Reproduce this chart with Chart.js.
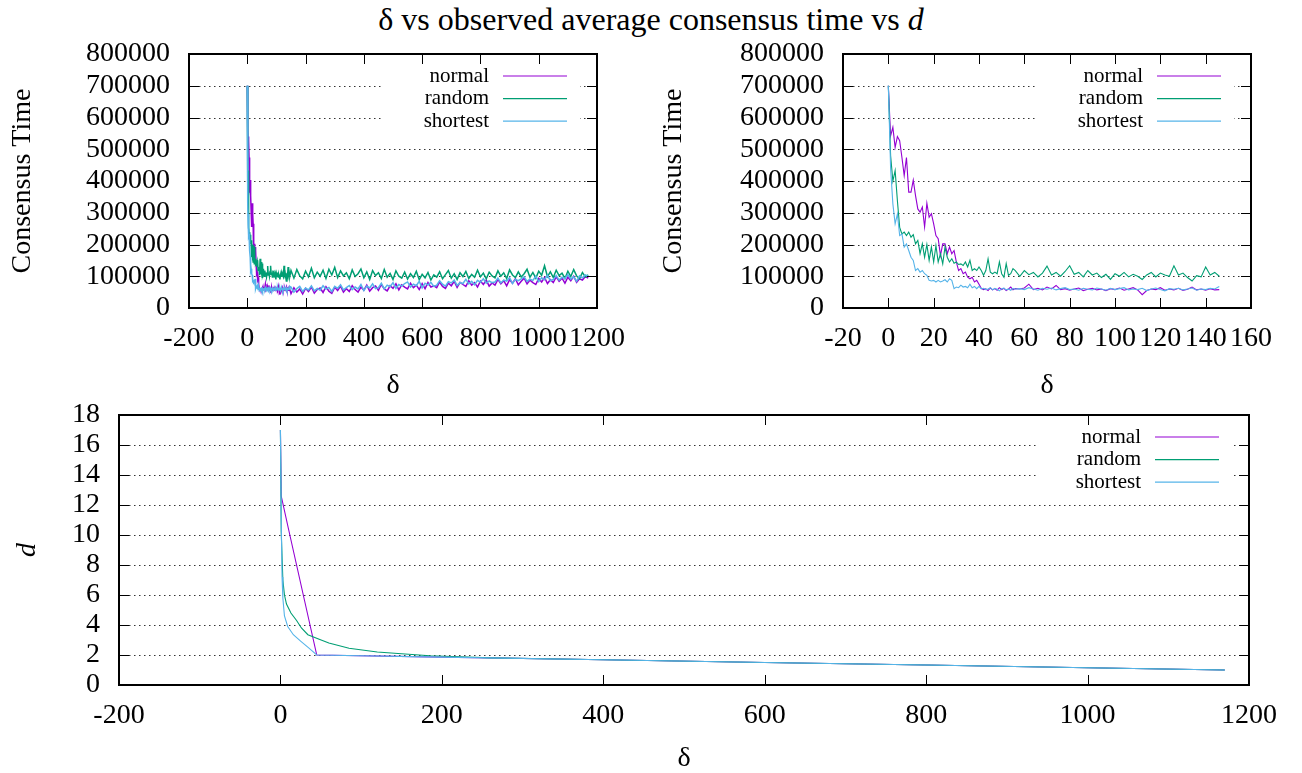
<!DOCTYPE html>
<html>
<head>
<meta charset="utf-8">
<script src="https://cdn.jsdelivr.net/npm/chart.js@4.4.1/dist/chart.umd.min.js"></script>
<style>
    html, body { margin: 0; padding: 0; background: #fff; }
    body { width: 1302px; height: 773px; position: relative; overflow: hidden; font-family: 'Liberation Serif', 'DejaVu Serif', serif; }
    #title { position: absolute; left: 0; top: 3px; width: 1302px; text-align: center; font-size: 32px; line-height: 32px; color: #000; }
    canvas { position: absolute; }
</style>
</head>
<body>
<div id="title">δ vs observed average consensus time vs <i>d</i></div>
<canvas id="chartTopLeft" width="651" height="400" style="left:0;top:0"></canvas>
<canvas id="chartTopRight" width="651" height="400" style="left:651px;top:0"></canvas>
<canvas id="chartBottom" width="1302" height="378" style="left:0;top:395px"></canvas>
<script>
// ---- Данные: δ с шагом 1 до 56, потом с шагом 2 (верхний правый график) ----
const deltaFine = [
    0, 1, 2, 3, 4, 5, 6, 7, 8, 9, 10, 11, 12, 13, 14, 15, 16, 17, 18, 19,
    20, 21, 22, 23, 24, 25, 26, 27, 28, 29, 30, 31, 32, 33, 34, 35, 36, 37, 38, 39,
    40, 41, 42, 43, 44, 45, 46, 47, 48, 49, 50, 51, 52, 53, 54, 55, 56,
    58, 60, 62, 64, 66, 68, 70, 72, 74, 76, 78, 80, 82, 84, 86, 88, 90, 92, 94, 96,
    98, 100, 102, 104, 106, 108, 110, 112, 114, 116, 118, 120, 122, 124, 126, 128, 130, 132, 134, 136,
    138, 140, 142, 144, 146
];

const normalFine = [
    700000, 542000, 569000, 506000, 540000, 527000, 474000, 417000, 474000, 365000,
    365000, 403000, 354000, 312000, 302000, 318000, 255000, 330000, 286000, 297000,
    265000, 228000, 218000, 165000, 202000, 202000, 171000, 192000, 171000, 181000,
    145000, 118000, 124000, 108000, 113000, 97000, 92000, 97000, 82000, 87000,
    75000, 62000, 58000, 60000, 55000, 63000, 57000, 61000, 56000, 64000,
    58000, 62000, 55000, 60000, 66000, 57000, 61000,
    60000, 63000, 75000, 58000, 62000, 57000, 66000, 60000, 71000, 58000,
    61000, 56000, 60000, 63000, 55000, 59000, 62000, 57000, 60000, 55000,
    61000, 58000, 63000, 56000, 60000, 64000, 57000, 42000, 55000, 60000,
    58000, 64000, 56000, 60000, 57000, 62000, 55000, 59000, 66000, 57000,
    60000, 56000, 61000, 57000, 58000
];

const randomFine = [
    700000, 480000, 400000, 433000, 338000, 254000, 233000, 239000, 228000, 239000,
    223000, 231000, 202000, 213000, 171000, 202000, 160000, 200000, 150000, 192000,
    145000, 197000, 145000, 171000, 139000, 192000, 160000, 145000, 155000, 141000,
    145000, 137000, 139000, 134000, 145000, 129000, 150000, 118000, 124000, 118000,
    129000, 118000, 103000, 118000, 155000, 113000, 108000, 113000, 108000, 145000,
    108000, 97000, 140000, 103000, 108000, 124000, 118000,
    100000, 118000, 105000, 112000, 98000, 110000, 132000, 104000, 112000, 100000,
    115000, 133000, 106000, 112000, 98000, 118000, 104000, 110000, 96000, 106000,
    90000, 108000, 100000, 112000, 98000, 106000, 100000, 90000, 104000, 112000,
    98000, 110000, 104000, 100000, 133000, 104000, 110000, 96000, 85000, 102000,
    98000, 129000, 104000, 112000, 100000
];

const shortestFine = [
    700000, 440000, 328000, 265000, 296000, 228000, 233000, 192000, 202000, 181000,
    160000, 150000, 118000, 124000, 113000, 118000, 108000, 103000, 87000, 85000,
    87000, 82000, 87000, 82000, 85000, 89000, 82000, 92000, 87000, 61000,
    66000, 64000, 72000, 66000, 68000, 64000, 75000, 64000, 68000, 61000,
    68000, 60000, 62000, 58000, 60000, 64000, 57000, 62000, 59000, 54000,
    61000, 63000, 57000, 60000, 56000, 62000, 59000,
    61000, 58000, 64000, 60000, 56000, 62000, 59000, 63000, 57000, 61000,
    64000, 58000, 60000, 56000, 62000, 59000, 57000, 63000, 60000, 56000,
    62000, 58000, 61000, 64000, 57000, 60000, 58000, 62000, 55000, 60000,
    63000, 58000, 54000, 61000, 59000, 62000, 57000, 60000, 63000, 56000,
    60000, 58000, 62000, 60000, 68000
];

// ---- Данные: хвост для верхнего левого графика, δ = 150..1170 с шагом 10 ----
const deltaCoarse = [
    150, 160, 170, 180, 190, 200, 210, 220, 230, 240,
    250, 260, 270, 280, 290, 300, 310, 320, 330, 340,
    350, 360, 370, 380, 390, 400, 410, 420, 430, 440,
    450, 460, 470, 480, 490, 500, 510, 520, 530, 540,
    550, 560, 570, 580, 590, 600, 610, 620, 630, 640,
    650, 660, 670, 680, 690, 700, 710, 720, 730, 740,
    750, 760, 770, 780, 790, 800, 810, 820, 830, 840,
    850, 860, 870, 880, 890, 900, 910, 920, 930, 940,
    950, 960, 970, 980, 990, 1000, 1010, 1020, 1030, 1040,
    1050, 1060, 1070, 1080, 1090, 1100, 1110, 1120, 1130, 1140,
    1150, 1160, 1170
];

const normalCoarse = [
    45000, 64000, 50000, 60000, 44000, 62000, 52000, 66000, 47000, 58000,
    63000, 49000, 67000, 53000, 46000, 65000, 55000, 69000, 50000, 61000,
    52000, 70000, 58000, 50000, 66000, 56000, 72000, 53000, 64000, 69000,
    56000, 74000, 60000, 54000, 70000, 62000, 76000, 57000, 73000, 66000,
    60000, 78000, 64000, 72000, 58000, 77000, 61000, 80000, 66000, 70000,
    64000, 82000, 68000, 62000, 78000, 70000, 84000, 65000, 81000, 74000,
    68000, 86000, 72000, 80000, 66000, 85000, 74000, 88000, 69000, 79000,
    72000, 90000, 76000, 86000, 70000, 89000, 78000, 92000, 73000, 84000,
    94000, 76000, 88000, 80000, 74000, 93000, 82000, 96000, 77000, 89000,
    80000, 98000, 84000, 94000, 78000, 97000, 86000, 100000, 81000, 92000,
    88000, 99000, 94000
];

const randomCoarse = [
    118000, 94000, 121000, 101000, 92000, 116000, 98000, 125000, 95000, 113000,
    100000, 119000, 93000, 122000, 104000, 128000, 96000, 117000, 101000, 111000,
    92000, 120000, 99000, 108000, 123000, 95000, 114000, 90000, 118000, 102000,
    111000, 93000, 121000, 97000, 109000, 90000, 117000, 100000, 94000, 113000,
    91000, 108000, 96000, 116000, 89000, 106000, 95000, 112000, 88000, 104000,
    97000, 114000, 92000, 105000, 118000, 94000, 108000, 90000, 111000, 99000,
    115000, 93000, 106000, 97000, 119000, 98000, 110000, 92000, 113000, 101000,
    95000, 117000, 100000, 111000, 93000, 120000, 104000, 96000, 114000, 98000,
    108000, 122000, 97000, 112000, 94000, 116000, 103000, 133000, 99000, 114000,
    96000, 119000, 102000, 110000, 93000, 116000, 99000, 121000, 101000, 92000,
    112000, 98000, 104000
];

const shortestCoarse = [
    66000, 50000, 61000, 68000, 52000, 63000, 57000, 70000, 54000, 62000,
    56000, 70000, 60000, 65000, 52000, 68000, 62000, 73000, 57000, 64000,
    71000, 58000, 66000, 60000, 74000, 55000, 69000, 63000, 76000, 61000,
    64000, 78000, 60000, 72000, 67000, 80000, 62000, 74000, 69000, 77000,
    82000, 66000, 75000, 70000, 84000, 63000, 78000, 72000, 81000, 68000,
    72000, 86000, 75000, 69000, 83000, 79000, 88000, 71000, 80000, 77000,
    90000, 76000, 84000, 73000, 87000, 81000, 92000, 78000, 85000, 80000,
    82000, 94000, 79000, 88000, 85000, 96000, 77000, 90000, 86000, 92000,
    98000, 84000, 91000, 87000, 100000, 83000, 95000, 89000, 103000, 86000,
    90000, 102000, 88000, 97000, 93000, 105000, 91000, 99000, 84000, 101000,
    95000, 104000, 100000
];

// ---- Данные: d в зависимости от δ (нижний график) ----
const deltaNormalD = [0, 1, 10, 20, 30, 40, 45, 200, 400, 600, 800, 1000, 1170];
const normalD = [17, 12.6, 10.4, 8.0, 5.6, 3.2, 2.0, 1.86, 1.68, 1.5, 1.33, 1.15, 1.0];

const deltaRandomD = [0, 1, 3, 5, 7.5, 13, 20, 26, 34, 48, 60, 85, 120, 150, 185, 222, 260, 400, 600, 800, 1000, 1170];
const randomD = [17, 10.2, 7.0, 6.0, 5.4, 4.8, 4.3, 3.8, 3.35, 3.05, 2.8, 2.45, 2.2, 2.08, 1.95, 1.88, 1.81, 1.68, 1.5, 1.33, 1.15, 1.0];

const deltaShortestD = [0, 1, 2, 3, 5, 9, 16, 25, 35, 45, 200, 400, 600, 800, 1000, 1170];
const shortestD = [17, 11, 7.2, 5.8, 4.6, 3.9, 3.35, 2.93, 2.47, 2.0, 1.86, 1.68, 1.5, 1.33, 1.15, 1.0];

const seriesNames = ['normal', 'random', 'shortest'];
const seriesColors = ['#9400d3', '#009e73', '#56b4e9'];

const FONT = "'Liberation Serif', 'DejaVu Serif', serif";
Chart.defaults.font.family = FONT;
Chart.defaults.color = '#000';

function toPoints(xs, ys) {
    return xs.map((x, i) => ({ x: x, y: ys[i] }));
}

/**
 * Плагин в стиле gnuplot: пунктирная сетка по y, рамка, засечки внутрь, легенда справа
 */
const gnuplotFrame = {
    id: 'gnuplotFrame',
    beforeDatasetsDraw(chart) {
        const { ctx, chartArea: a } = chart;
        const yScale = chart.scales.y;
        ctx.save();
        ctx.strokeStyle = '#333';
        ctx.lineWidth = 1;
        ctx.setLineDash([1.5, 3.5]);
        yScale.ticks.forEach(t => {
            if (t.value === yScale.min || t.value === yScale.max) return;
            const py = Math.round(yScale.getPixelForValue(t.value)) + 0.5;
            ctx.beginPath();
            ctx.moveTo(a.left, py);
            ctx.lineTo(a.right, py);
            ctx.stroke();
        });
        ctx.restore();
    },
    afterDatasetsDraw(chart) {
        const { ctx, chartArea: a } = chart;
        const xScale = chart.scales.x;
        const yScale = chart.scales.y;
        ctx.save();

        // легенда с белым фоном
        ctx.fillStyle = '#fff';
        ctx.fillRect(a.right - 213, a.top + 8, 196, 72);
        ctx.font = '21px ' + FONT;
        ctx.textAlign = 'right';
        ctx.textBaseline = 'middle';
        chart.data.datasets.forEach((ds, i) => {
            const ly = a.top + 22 + i * 22.6;
            ctx.fillStyle = '#000';
            ctx.fillText(ds.label, a.right - 108, ly);
            ctx.strokeStyle = ds.borderColor;
            ctx.lineWidth = 1.2;
            ctx.beginPath();
            ctx.moveTo(a.right - 94, ly);
            ctx.lineTo(a.right - 30, ly);
            ctx.stroke();
        });

        // засечки внутрь на всех четырёх сторонах
        ctx.strokeStyle = '#000';
        ctx.lineWidth = 1;
        const tick = 10;
        xScale.ticks.forEach(t => {
            const px = Math.round(xScale.getPixelForValue(t.value)) + 0.5;
            ctx.beginPath();
            ctx.moveTo(px, a.bottom); ctx.lineTo(px, a.bottom - tick);
            ctx.moveTo(px, a.top); ctx.lineTo(px, a.top + tick);
            ctx.stroke();
        });
        yScale.ticks.forEach(t => {
            const py = Math.round(yScale.getPixelForValue(t.value)) + 0.5;
            ctx.beginPath();
            ctx.moveTo(a.left, py); ctx.lineTo(a.left + tick, py);
            ctx.moveTo(a.right, py); ctx.lineTo(a.right - tick, py);
            ctx.stroke();
        });

        // рамка
        ctx.lineWidth = 2;
        ctx.strokeRect(a.left, a.top, a.right - a.left, a.bottom - a.top);
        ctx.restore();
    }
};

function buildDatasets(pointSets, width) {
    return pointSets.map((pts, i) => ({
        label: seriesNames[i],
        data: pts,
        borderColor: seriesColors[i],
        borderWidth: width,
        pointRadius: 0,
        tension: 0,
        fill: false,
        order: 2 - i
    }));
}

function buildOptions(p) {
    const tickFont = { family: FONT, size: 28 };
    return {
        responsive: false,
        animation: false,
        layout: { padding: { left: 0, top: p.top, right: p.right, bottom: 0 } },
        plugins: { legend: { display: false }, tooltip: { enabled: false } },
        scales: {
            x: {
                type: 'linear',
                min: p.xMin, max: p.xMax,
                grid: { display: false, drawTicks: false },
                border: { display: false },
                ticks: {
                    stepSize: p.xStep, padding: p.xPad, font: tickFont, color: '#000',
                    autoSkip: false, maxRotation: 0, minRotation: 0,
                    callback: v => String(v)
                },
                title: {
                    display: true, text: 'δ', color: '#000',
                    font: { family: FONT, size: 28, lineHeight: 1 },
                    padding: { top: p.xTitlePad, bottom: 0 }
                },
                afterFit: s => { s.height = p.xHeight; }
            },
            y: {
                type: 'linear',
                min: p.yMin, max: p.yMax,
                grid: { display: false, drawTicks: false },
                border: { display: false },
                ticks: {
                    stepSize: p.yStep, padding: 19, font: tickFont, color: '#000',
                    autoSkip: false,
                    callback: v => String(v)
                },
                title: {
                    display: true, text: p.yTitle, color: '#000',
                    font: { family: FONT, size: 28, lineHeight: 1, style: p.yTitleStyle },
                    padding: { top: p.yTitlePad, bottom: 0 }
                },
                // фиксированная ширина оси и без лишнего отступа сверху
                afterFit: s => { s.width = p.yWidth; s.paddingTop = 0; s.paddingBottom = 0; }
            }
        }
    };
}

// ---- Верхний левый: весь диапазон δ ----
new Chart(document.getElementById('chartTopLeft'), {
    type: 'line',
    data: {
        datasets: buildDatasets([
            toPoints(deltaFine.concat(deltaCoarse), normalFine.concat(normalCoarse)),
            toPoints(deltaFine.concat(deltaCoarse), randomFine.concat(randomCoarse)),
            toPoints(deltaFine.concat(deltaCoarse), shortestFine.concat(shortestCoarse))
        ], 1.5)
    },
    options: buildOptions({
        top: 54, right: 54, xHeight: 92, yWidth: 189,
        xMin: -200, xMax: 1200, xStep: 200, xPad: 14, xTitlePad: 8,
        yMin: 0, yMax: 800000, yStep: 100000,
        yTitle: 'Consensus Time', yTitleStyle: 'normal', yTitlePad: 9
    }),
    plugins: [gnuplotFrame]
});

// ---- Верхний правый: δ до 146 ----
new Chart(document.getElementById('chartTopRight'), {
    type: 'line',
    data: {
        datasets: buildDatasets([
            toPoints(deltaFine, normalFine),
            toPoints(deltaFine, randomFine),
            toPoints(deltaFine, shortestFine)
        ], 1.1)
    },
    options: buildOptions({
        top: 54, right: 51, xHeight: 92, yWidth: 192,
        xMin: -20, xMax: 160, xStep: 20, xPad: 14, xTitlePad: 8,
        yMin: 0, yMax: 800000, yStep: 100000,
        yTitle: 'Consensus Time', yTitleStyle: 'normal', yTitlePad: 9
    }),
    plugins: [gnuplotFrame]
});

// ---- Нижний: d ----
new Chart(document.getElementById('chartBottom'), {
    type: 'line',
    data: {
        datasets: buildDatasets([
            toPoints(deltaNormalD, normalD),
            toPoints(deltaRandomD, randomD),
            toPoints(deltaShortestD, shortestD)
        ], 1.1)
    },
    options: buildOptions({
        top: 20, right: 53, xHeight: 88, yWidth: 119,
        xMin: -200, xMax: 1200, xStep: 200, xPad: 14, xTitlePad: 2,
        yMin: 0, yMax: 18, yStep: 2,
        yTitle: 'd', yTitleStyle: 'italic', yTitlePad: 14
    }),
    plugins: [gnuplotFrame]
});
</script>
</body>
</html>
